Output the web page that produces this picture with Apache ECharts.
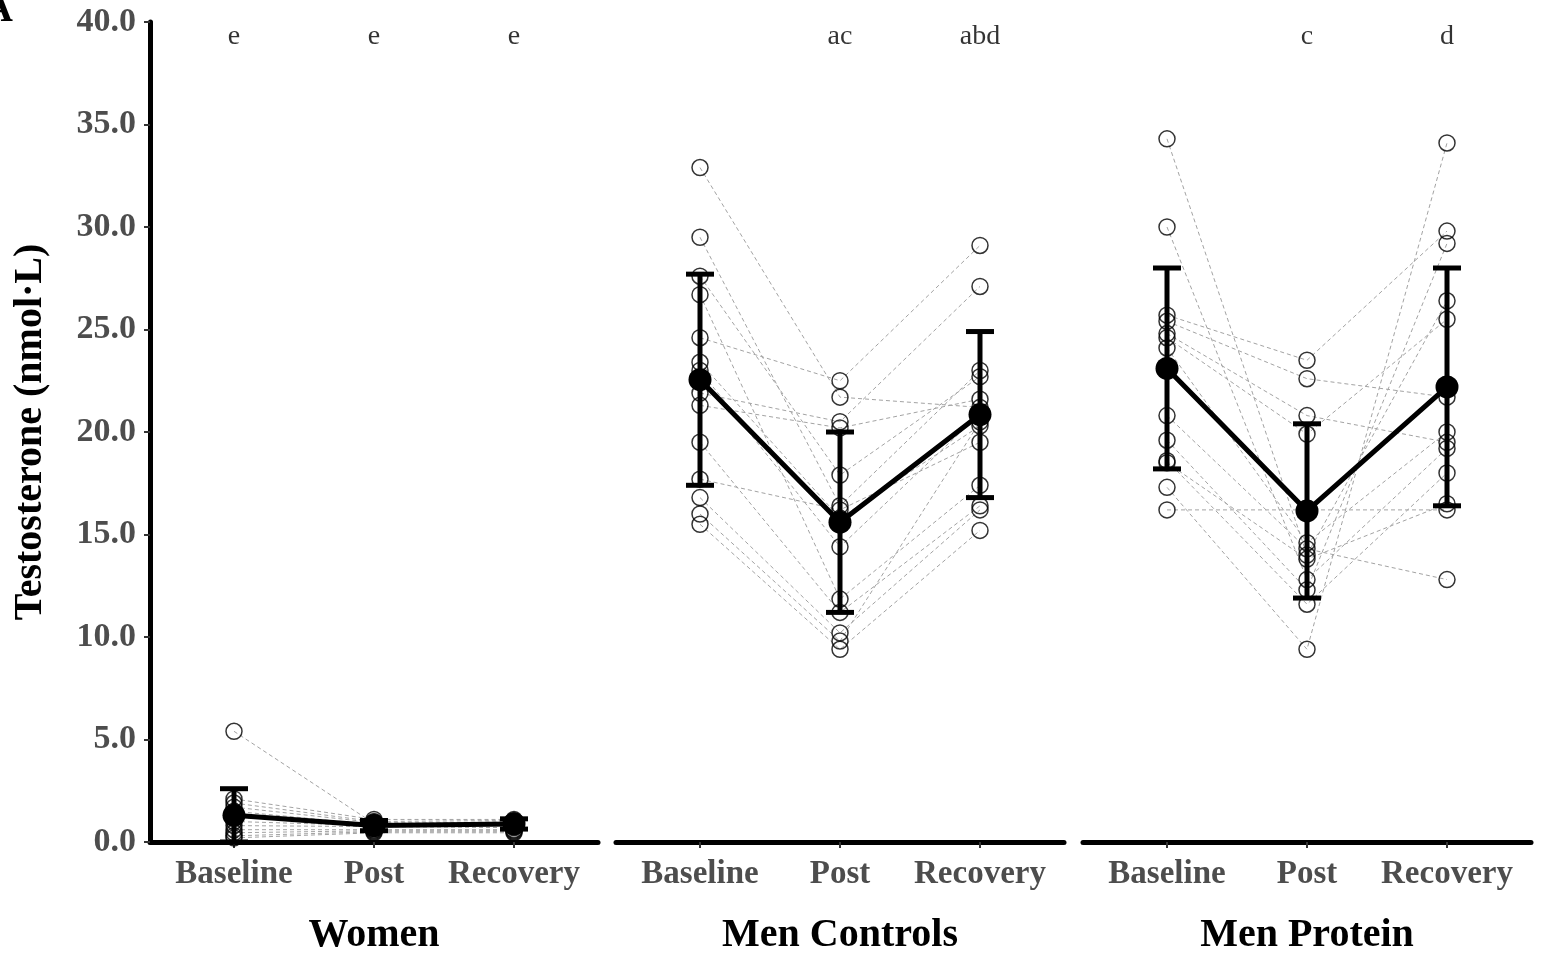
<!DOCTYPE html>
<html>
<head>
<meta charset="utf-8">
<script src="https://cdn.jsdelivr.net/npm/echarts@6/dist/echarts.min.js"></script>
<style>
html,body{margin:0;padding:0;background:#fff;}
#chart{width:1541px;height:957px;}
</style>
</head>
<body>
<div id="chart"></div>
<script>
// ---- data ----
const timepoints = ['Baseline', 'Post', 'Recovery'];
const groups = ['Women', 'Men Controls', 'Men Protein'];
const yTickStep = 5;

// individual participants (same index = same participant)
const womenBaseline = [5.4, 2.1, 1.9, 1.7, 1.5, 1.2, 1.0, 0.8, 0.6, 0.45, 0.3, 0.2];
const womenPost     = [0.9, 1.1, 1.0, 0.95, 0.85, 0.9, 0.8, 0.75, 0.6, 0.55, 0.5, 0.45];
const womenRecovery = [0.85, 1.1, 1.05, 0.9, 1.0, 0.95, 0.8, 0.7, 0.6, 0.55, 0.5, 0.45];

const mcBaseline = [32.9, 29.5, 27.6, 26.7, 24.6, 23.4, 23.0, 21.9, 21.3, 19.5, 17.7, 16.8, 16.0, 15.5];
const mcPost     = [21.7, 16.4, 17.9, 11.85, 22.5, 15.8, 14.4, 20.5, 20.2, 11.2, 16.2, 10.2, 9.8, 9.4];
const mcRecovery = [21.2, 23.0, 22.7, 17.4, 29.1, 20.3, 20.9, 27.1, 21.6, 16.4, 19.5, 16.2, 20.5, 15.2];

const mpBaseline = [34.3, 30.0, 25.7, 25.4, 24.8, 24.6, 24.1, 20.8, 19.6, 18.6, 18.5, 17.3, 16.2];
const mpPost     = [14.0, 12.8, 23.5, 22.6, 20.8, 19.9, 14.6, 14.3, 12.3, 11.6, 13.8, 9.4, 16.2];
const mpRecovery = [26.4, 19.2, 29.8, 21.7, 19.5, 25.5, 20.0, 12.8, 29.2, 18.0, 16.5, 34.1, 16.2];

// group means and SD (error bars)
const womenMean = [1.3, 0.8, 0.88];
const womenSD   = [1.3, 0.25, 0.25];
const mcMean = [22.55, 15.6, 20.85];
const mcSD   = [5.15, 4.4, 4.05];
const mpMean = [23.1, 16.15, 22.2];
const mpSD   = [4.9, 4.25, 5.8];

// significance letters
const womenLetters = ['e', 'e', 'e'];
const mcLetters = ['', 'ac', 'abd'];
const mpLetters = ['', 'c', 'd'];
const letterY = 39.3;

// ---- chart construction ----
const FONT = "'Liberation Serif', 'Times New Roman', serif";
const panels = [
  {subjects: [womenBaseline, womenPost, womenRecovery], mean: womenMean, sd: womenSD, letters: womenLetters},
  {subjects: [mcBaseline, mcPost, mcRecovery], mean: mcMean, sd: mcSD, letters: mcLetters},
  {subjects: [mpBaseline, mpPost, mpRecovery], mean: mpMean, sd: mpSD, letters: mpLetters}
];
const gridLefts = [150, 616, 1083];
const gridWidth = 448;

const grids = [], xAxes = [], yAxes = [], series = [];
panels.forEach((pn, p) => {
  grids.push({left: gridLefts[p], top: 22, width: gridWidth, height: 820,
    containLabel: false, outerBoundsMode: 'none'});
  xAxes.push({
    type: 'value', gridIndex: p, min: 0.4, max: 3.6,
    name: groups[p], nameLocation: 'middle', nameGap: 74,
    nameTextStyle: {fontFamily: FONT, fontWeight: 'bold', fontSize: 40, color: '#000'},
    axisLine: {show: true, lineStyle: {color: '#000', width: 5}},
    axisTick: {show: true, customValues: [1, 2, 3], length: 6, lineStyle: {color: '#333', width: 2}},
    axisLabel: {show: true, customValues: [1, 2, 3], margin: 16,
      formatter: v => timepoints[Math.round(v) - 1],
      fontFamily: FONT, fontWeight: 'bold', fontSize: 33, color: '#4d4d4d'},
    splitLine: {show: false}
  });
  yAxes.push({
    type: 'value', gridIndex: p, min: 0, max: 40, interval: yTickStep,
    show: p === 0,
    name: p === 0 ? 'Testosterone (nmol·L)' : '', nameLocation: 'middle', nameGap: 99,
    nameTextStyle: {fontFamily: FONT, fontWeight: 'bold', fontSize: 40, color: '#000'},
    axisLine: {show: true, lineStyle: {color: '#000', width: 5}},
    axisTick: {show: true, length: 6, lineStyle: {color: '#333', width: 2}},
    axisLabel: {show: true, margin: 14, formatter: v => v.toFixed(1),
      fontFamily: FONT, fontWeight: 'bold', fontSize: 34, color: '#4d4d4d'},
    splitLine: {show: false}
  });

  const [b, po, r] = pn.subjects;
  // dashed participant lines
  b.forEach((_, i) => {
    series.push({
      type: 'line', xAxisIndex: p, yAxisIndex: p, silent: true, z: 1,
      symbol: 'none',
      data: [[1, b[i]], [2, po[i]], [3, r[i]]],
      lineStyle: {color: '#a3a3a3', width: 1, type: [4, 3]}
    });
  });
  // open circles
  const pts = [];
  [b, po, r].forEach((arr, t) => arr.forEach(v => pts.push([t + 1, v])));
  series.push({
    type: 'scatter', xAxisIndex: p, yAxisIndex: p, z: 2, silent: true,
    symbol: 'circle', symbolSize: 16,
    itemStyle: {color: 'rgba(0,0,0,0)', borderColor: '#000', borderWidth: 1.5},
    data: pts
  });
  // error bars
  series.push({
    type: 'custom', xAxisIndex: p, yAxisIndex: p, z: 3, silent: true,
    data: pn.mean.map((m, t) => [t + 1, m - pn.sd[t], m + pn.sd[t]]),
    renderItem: (params, api) => {
      const x = api.value(0);
      const lo = api.coord([x, api.value(1)]);
      const hi = api.coord([x, api.value(2)]);
      const half = 14;
      const st = {stroke: '#000', lineWidth: 5};
      return {type: 'group', children: [
        {type: 'line', shape: {x1: lo[0], y1: lo[1], x2: hi[0], y2: hi[1]}, style: st},
        {type: 'line', shape: {x1: lo[0] - half, y1: lo[1], x2: lo[0] + half, y2: lo[1]}, style: st},
        {type: 'line', shape: {x1: hi[0] - half, y1: hi[1], x2: hi[0] + half, y2: hi[1]}, style: st}
      ]};
    }
  });
  // mean line
  series.push({
    type: 'line', xAxisIndex: p, yAxisIndex: p, z: 4, silent: true,
    symbol: 'circle', symbolSize: 23, showSymbol: true,
    itemStyle: {color: '#000'},
    lineStyle: {color: '#000', width: 5},
    data: pn.mean.map((m, t) => [t + 1, m])
  });
  // letters
  series.push({
    type: 'scatter', xAxisIndex: p, yAxisIndex: p, z: 5, silent: true,
    symbolSize: 0,
    data: pn.letters.map((l, t) => ({value: [t + 1, letterY], txt: l})),
    label: {show: true, position: 'inside', formatter: d => d.data.txt,
      fontFamily: FONT, fontSize: 28, color: '#000'}
  });
});

const chart = echarts.init(document.getElementById('chart'), null, {renderer: 'canvas'});
chart.setOption({
  animation: false,
  backgroundColor: '#fff',
  grid: grids, xAxis: xAxes, yAxis: yAxes, series: series,
  graphic: [{type: 'text', left: -16, top: -9,
    style: {text: 'A', fontFamily: FONT, fontWeight: 'bold', fontSize: 40, fill: '#000'}}]
});
</script>
</body>
</html>
